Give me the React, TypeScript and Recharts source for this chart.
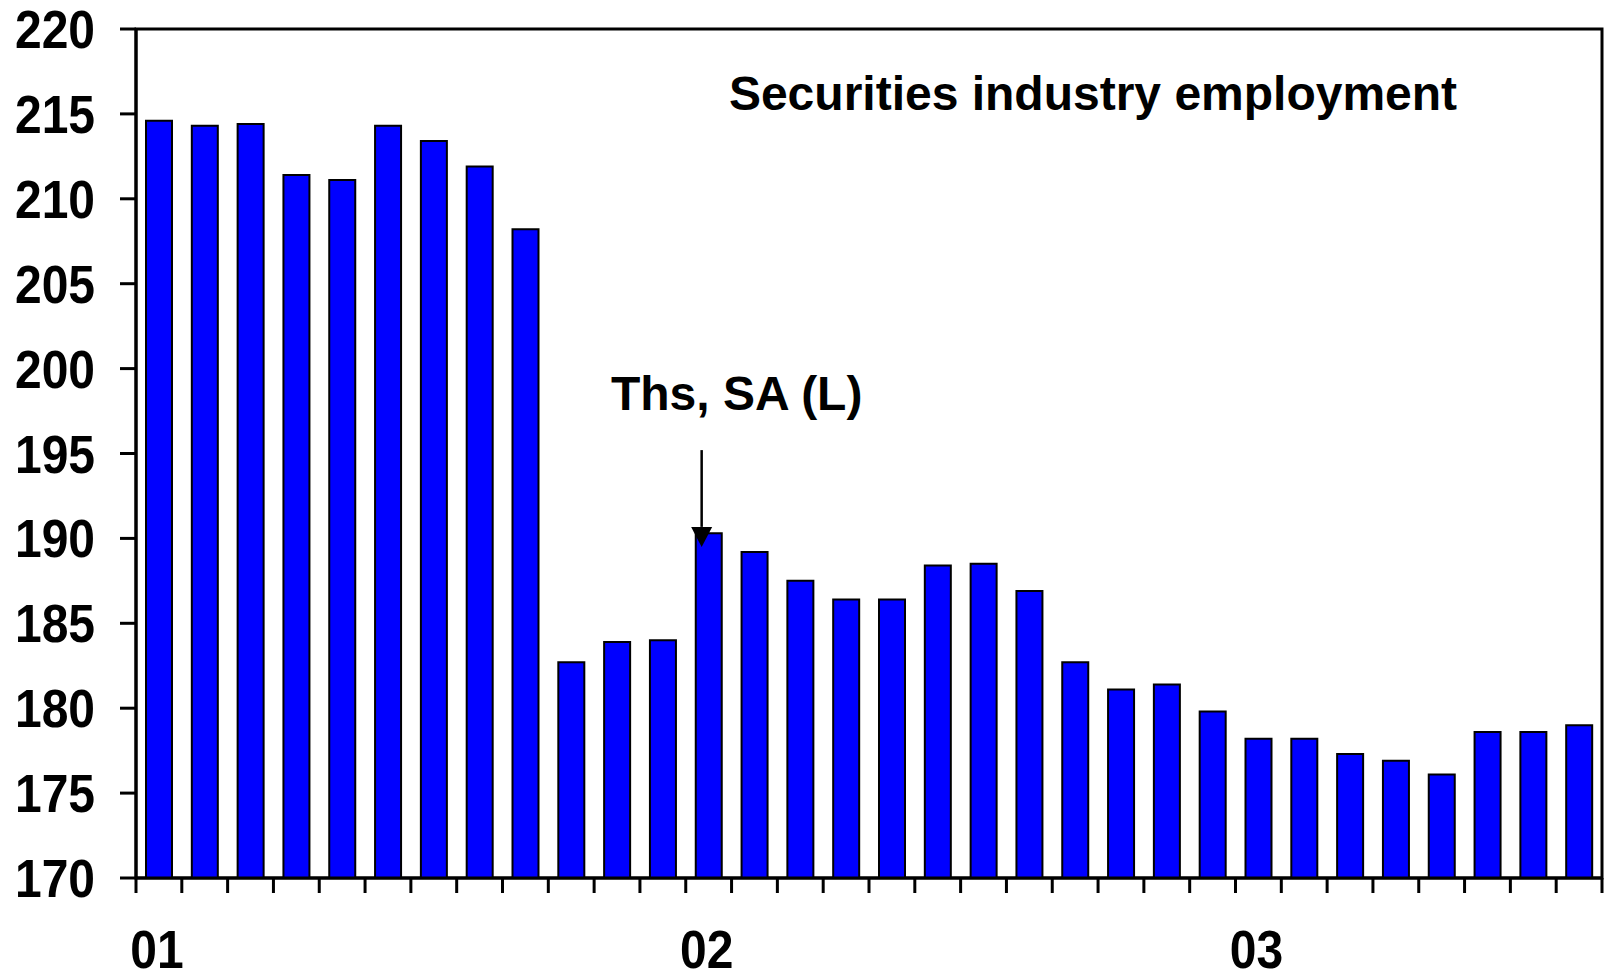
import React from 'react';
import { BarChart, Bar, XAxis, YAxis, ReferenceLine, ReferenceArea } from 'recharts';

// Monthly securities industry employment, thousands, seasonally adjusted
const months = [
  'Jan 01', 'Feb 01', 'Mar 01', 'Apr 01', 'May 01', 'Jun 01', 'Jul 01', 'Aug 01', 'Sep 01', 'Oct 01', 'Nov 01', 'Dec 01',
  'Jan 02', 'Feb 02', 'Mar 02', 'Apr 02', 'May 02', 'Jun 02', 'Jul 02', 'Aug 02', 'Sep 02', 'Oct 02', 'Nov 02', 'Dec 02',
  'Jan 03', 'Feb 03', 'Mar 03', 'Apr 03', 'May 03', 'Jun 03', 'Jul 03', 'Aug 03',
];

const employment = [
  214.6, 214.3, 214.4, 211.4, 211.1, 214.3, 213.4, 211.9, 208.2, 182.7, 183.9, 184.0,
  190.3, 189.2, 187.5, 186.4, 186.4, 188.4, 188.5, 186.9, 182.7, 181.1, 181.4, 179.8,
  178.2, 178.2, 177.3, 176.9, 176.1, 178.6, 178.6, 179.0,
];

const yearLabels: Record<string, string> = { 'Jan 01': '01', 'Jan 02': '02', 'Jan 03': '03' };

const yTicks = [170, 175, 180, 185, 190, 195, 200, 205, 210, 215, 220];

const data = months.map((m, i) => ({ month: m, value: employment[i] }));

const FONT = "'Liberation Sans', Arial, Helvetica, sans-serif";
const STRETCH = 1.1;

const CHART_W = 1604;
const CHART_H = 980;
const MARGIN = { top: 29, right: 2, bottom: 0, left: 0 };
const Y_AXIS_W = 136;
const HALF_BAND = (CHART_W - MARGIN.left - MARGIN.right - Y_AXIS_W) / months.length / 2;
const TICK_LEN = 15;

// Month tick marks sit on the band edges; year labels sit under the first month of each year
const MonthTick = (props: any) => {
  const { x, y, payload, index } = props;
  const half = payload && payload.offset > 0 ? payload.offset : HALF_BAND;
  const label = yearLabels[payload.value];
  const isLast = index === months.length - 1;
  return (
    <g>
      <line x1={x - half} y1={y} x2={x - half} y2={y + TICK_LEN} stroke="#000" strokeWidth={3} />
      {isLast && <line x1={x + half} y1={y} x2={x + half} y2={y + TICK_LEN} stroke="#000" strokeWidth={3} />}
      {label && (
        <g transform={`translate(${x - 2},${y + 90}) scale(1,${STRETCH})`}>
          <text x={0} y={0} textAnchor="middle" fontFamily={FONT} fontWeight="bold" fontSize={48} fill="#000">
            {label}
          </text>
        </g>
      )}
    </g>
  );
};

const ValueTick = (props: any) => {
  const { x, y, payload } = props;
  return (
    <g transform={`translate(${x},${y}) scale(1,${STRETCH})`}>
      <text x={0} y={0} dy="0.36em" textAnchor="end" fontFamily={FONT} fontWeight="bold" fontSize={48} fill="#000">
        {payload.value}
      </text>
    </g>
  );
};

const ArrowNote = (props: any) => {
  const { x1, y1, y2 } = props;
  const ax = x1 - 7;
  const head = 20;
  return (
    <g>
      <text x={x1 + 28} y={y1 - 40} textAnchor="middle" fontFamily={FONT} fontWeight="bold" fontSize={48} fill="#000">
        Ths, SA (L)
      </text>
      <line x1={ax} y1={y1} x2={ax} y2={y2 - head} stroke="#000" strokeWidth={2.5} />
      <polygon points={`${ax - 10.5},${y2 - head} ${ax + 10.5},${y2 - head} ${ax},${y2}`} fill="#000" />
    </g>
  );
};

export default function App() {
  return (
    <div style={{ position: 'absolute', left: 0, top: 0, width: CHART_W, height: CHART_H, background: '#fff' }}>
      <BarChart width={CHART_W} height={CHART_H} data={data} margin={MARGIN}>
        <XAxis
          xAxisId="cat"
          dataKey="month"
          interval={0}
          height={102}
          axisLine={{ stroke: '#000', strokeWidth: 3 }}
          tickLine={false}
          tickSize={0}
          tickMargin={0}
          tick={<MonthTick />}
        />
        <YAxis
          yAxisId="left"
          domain={[170, 220]}
          ticks={yTicks}
          interval={0}
          allowDataOverflow
          width={Y_AXIS_W}
          tickSize={16}
          tickMargin={25}
          axisLine={{ stroke: '#000', strokeWidth: 3 }}
          tickLine={{ stroke: '#000', strokeWidth: 3 }}
          tick={<ValueTick />}
        />
        <ReferenceArea
          xAxisId="cat"
          yAxisId="left"
          y1={170}
          y2={220}
          fill="none"
          fillOpacity={0}
          stroke="#000"
          strokeWidth={3}
          ifOverflow="visible"
        />
        <Bar
          xAxisId="cat"
          yAxisId="left"
          dataKey="value"
          fill="#0000FF"
          stroke="#000"
          strokeWidth={2}
          barSize={26}
          isAnimationActive={false}
        />
        <ReferenceLine
          xAxisId="cat"
          yAxisId="left"
          segment={[{ x: 'Jan 02', y: 195.2 }, { x: 'Jan 02', y: 189.5 }]}
          shape={<ArrowNote />}
        />
      </BarChart>
      <div
        style={{
          position: 'absolute',
          left: 1093,
          top: 70,
          transform: 'translateX(-50%)',
          whiteSpace: 'nowrap',
          fontFamily: FONT,
          fontWeight: 'bold',
          fontSize: 48,
          lineHeight: '48px',
          color: '#000',
        }}
      >
        Securities industry employment
      </div>
    </div>
  );
}
